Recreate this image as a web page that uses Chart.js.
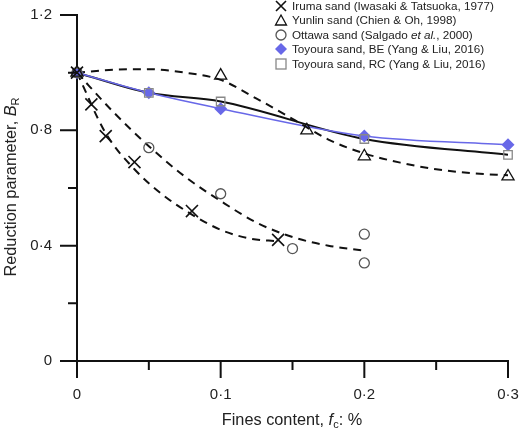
<!DOCTYPE html>
<html>
<head>
<meta charset="utf-8">
<script src="https://cdn.jsdelivr.net/npm/chart.js@4.4.0/dist/chart.umd.min.js"></script>
<style>
  body { margin: 0; background: #fff; font-family: "Liberation Sans", Arial, sans-serif; color: #222; }
  #wrap { position: relative; width: 520px; height: 434px; }
  #legend { position: absolute; left: 274px; top: -1px; font-size: 11.7px; }
  #legend .row { height: 14.4px; line-height: 14.4px; white-space: nowrap; }
  #legend svg { width: 14px; height: 14px; margin-right: 4px; vertical-align: -3px; }
  .title { position: absolute; font-size: 16.3px; text-align: center; white-space: nowrap; }
  .title sub { font-size: 11px; vertical-align: -3px; }
  #xTitle { left: 142px; top: 409px; width: 300px; height: 20px; line-height: 20px; }
  #yTitle { left: -140px; top: 177px; width: 300px; height: 20px; line-height: 20px; transform: rotate(-90deg); }
</style>
</head>
<body>
<div id="wrap">
  <canvas id="chart" width="520" height="434"></canvas>
  <div id="legend">
    <div class="row"><svg viewBox="0 0 14 14"><path d="M2 2L12 12M12 2L2 12" stroke="#111" stroke-width="1.6"/></svg>Iruma sand (Iwasaki &amp; Tatsuoka, 1977)</div>
    <div class="row"><svg viewBox="0 0 14 14"><path d="M7 2L12.5 12H1.5Z" fill="none" stroke="#111" stroke-width="1.3"/></svg>Yunlin sand (Chien &amp; Oh, 1998)</div>
    <div class="row"><svg viewBox="0 0 14 14"><circle cx="7" cy="7" r="5" fill="none" stroke="#555" stroke-width="1.3"/></svg>Ottawa sand (Salgado <i>et al.</i>, 2000)</div>
    <div class="row"><svg viewBox="0 0 14 14"><path d="M7 1L13 7L7 13L1 7Z" fill="rgb(104,104,232)"/></svg>Toyoura sand, BE (Yang &amp; Liu, 2016)</div>
    <div class="row"><svg viewBox="0 0 14 14"><rect x="2" y="2" width="10" height="10" fill="none" stroke="#888" stroke-width="1.3"/></svg>Toyoura sand, RC (Yang &amp; Liu, 2016)</div>
  </div>
  <div id="xTitle" class="title">Fines content, <i>f</i><sub>c</sub>: %</div>
  <div id="yTitle" class="title">Reduction parameter, <i>B</i><sub>R</sub></div>
</div>
<script>
// measured points
const fcIruma = [0, 0.01, 0.02, 0.04, 0.08, 0.14];
const brIruma = [1.0, 0.89, 0.78, 0.69, 0.52, 0.42];
const fcYunlin = [0, 0.1, 0.16, 0.2, 0.3];
const brYunlin = [1.0, 0.99, 0.80, 0.71, 0.64];
const fcOttawa = [0, 0.05, 0.1, 0.15, 0.2, 0.2];
const brOttawa = [1.0, 0.74, 0.58, 0.39, 0.44, 0.34];
const fcToyoura = [0, 0.05, 0.1, 0.2, 0.3];
const brToyouraBE = [1.0, 0.93, 0.875, 0.78, 0.75];
const brToyouraRC = [1.0, 0.93, 0.90, 0.77, 0.715];

// dashed trend curves
const fitIrumaFc = [0, 0.02, 0.04, 0.06, 0.08, 0.1, 0.12, 0.14];
const fitIrumaBr = [1.0, 0.79, 0.665, 0.575, 0.508, 0.455, 0.425, 0.415];
const fitOttawaFc = [0, 0.025, 0.05, 0.075, 0.1, 0.125, 0.15, 0.175, 0.2];
const fitOttawaBr = [1.0, 0.865, 0.745, 0.64, 0.555, 0.48, 0.43, 0.40, 0.383];
const fitYunlinFc = [0, 0.025, 0.05, 0.075, 0.1, 0.125, 0.15, 0.175, 0.2, 0.225, 0.25, 0.275, 0.3];
const fitYunlinBr = [1.0, 1.01, 1.012, 1.0, 0.975, 0.91, 0.84, 0.768, 0.72, 0.688, 0.665, 0.651, 0.644];

// axis ticks
const xMajorTicks = [0, 0.1, 0.2, 0.3];
const xTickLabels = ["0", "0·1", "0·2", "0·3"];
const xMinorTicks = [0.05, 0.15, 0.25];
const yMajorTicks = [0, 0.4, 0.8, 1.2];
const yTickLabels = ["0", "0·4", "0·8", "1·2"];
const yMinorTicks = [0.2, 0.6, 1.0];

const BLUE = "rgb(104,104,232)";

const pts = (xs, ys) => xs.map((x, i) => ({ x: x, y: ys[i] }));

const labelFor = (majors, labels) => (value) => {
  const i = majors.findIndex((m) => Math.abs(m - value) < 1e-6);
  return i >= 0 ? labels[i] : "";
};

// draws major/minor ticks outside the axes
const axisTicks = {
  id: "axisTicks",
  afterDraw(chart) {
    const { ctx } = chart;
    const x = chart.scales.x;
    const y = chart.scales.y;
    ctx.save();
    ctx.strokeStyle = "#111";
    ctx.lineWidth = 2;
    ctx.beginPath();
    const xt = (vals, len) => vals.forEach((v) => {
      const p = x.getPixelForValue(v);
      ctx.moveTo(p, y.bottom);
      ctx.lineTo(p, y.bottom + len);
    });
    const yt = (vals, len) => vals.forEach((v) => {
      const p = y.getPixelForValue(v);
      ctx.moveTo(x.left, p);
      ctx.lineTo(x.left - len, p);
    });
    xt(xMajorTicks, 17);
    xt(xMinorTicks, 9);
    yt(yMajorTicks, 17);
    yt(yMinorTicks, 9);
    ctx.stroke();
    ctx.restore();
  },
};

const curve = (data, color, width, dash) => ({
  data: data,
  showLine: true,
  borderColor: color,
  borderWidth: width,
  borderDash: dash,
  pointRadius: 0,
  cubicInterpolationMode: "monotone",
  order: 2,
  clip: false,
});

const marks = (data, style, radius, stroke, fill, width) => ({
  data: data,
  showLine: false,
  pointStyle: style,
  pointRadius: radius,
  pointBorderColor: stroke,
  pointBackgroundColor: fill,
  pointBorderWidth: width,
  order: 1,
  clip: false,
});

new Chart(document.getElementById("chart"), {
  type: "scatter",
  data: {
    datasets: [
      curve(pts(fitIrumaFc, fitIrumaBr), "#111", 2, [8, 6]),
      curve(pts(fitOttawaFc, fitOttawaBr), "#111", 2, [8, 6]),
      curve(pts(fitYunlinFc, fitYunlinBr), "#111", 2, [8, 6]),
      curve(pts(fcToyoura, brToyouraBE), BLUE, 1.5, []),
      curve(pts(fcToyoura, brToyouraRC), "#111", 2, []),
      marks(pts(fcIruma, brIruma), "crossRot", 8.5, "#111", "#111", 1.6),
      marks(pts(fcYunlin, brYunlin), "triangle", 7, "#111", "rgba(255,255,255,0)", 1.3),
      marks(pts(fcOttawa, brOttawa), "circle", 5, "#555", "rgba(255,255,255,0)", 1.3),
      marks(pts(fcToyoura, brToyouraRC), "rect", 6, "#888", "rgba(255,255,255,0)", 1.3),
      marks(pts(fcToyoura, brToyouraBE), "rectRot", 6.5, BLUE, BLUE, 0),
    ],
  },
  options: {
    responsive: false,
    animation: false,
    devicePixelRatio: 1,
    layout: { padding: { left: 0, right: 12, top: 15, bottom: 0 } },
    plugins: { legend: { display: false }, tooltip: { enabled: false } },
    scales: {
      x: {
        type: "linear",
        min: 0,
        max: 0.3,
        afterBuildTicks: (scale) => {
          scale.ticks = xMajorTicks.map((v) => ({ value: v }));
        },
        afterFit: (scale) => {
          scale.height = 73;
          scale.paddingLeft = 0;
          scale.paddingRight = 0;
        },
        grid: { display: false, drawTicks: false },
        border: { display: true, color: "#111", width: 2 },
        ticks: {
          padding: 25,
          color: "#222",
          maxRotation: 0,
          font: { family: "Liberation Sans", size: 15 },
          callback: labelFor(xMajorTicks, xTickLabels),
        },
      },
      y: {
        type: "linear",
        min: 0,
        max: 1.2,
        afterBuildTicks: (scale) => {
          scale.ticks = yMajorTicks.map((v) => ({ value: v }));
        },
        afterFit: (scale) => {
          scale.width = 77;
          scale.paddingTop = 0;
          scale.paddingBottom = 0;
        },
        grid: { display: false, drawTicks: false },
        border: { display: true, color: "#111", width: 2 },
        ticks: {
          padding: 25,
          color: "#222",
          font: { family: "Liberation Sans", size: 15 },
          callback: labelFor(yMajorTicks, yTickLabels),
        },
      },
    },
  },
  plugins: [axisTicks],
});
</script>
</body>
</html>
